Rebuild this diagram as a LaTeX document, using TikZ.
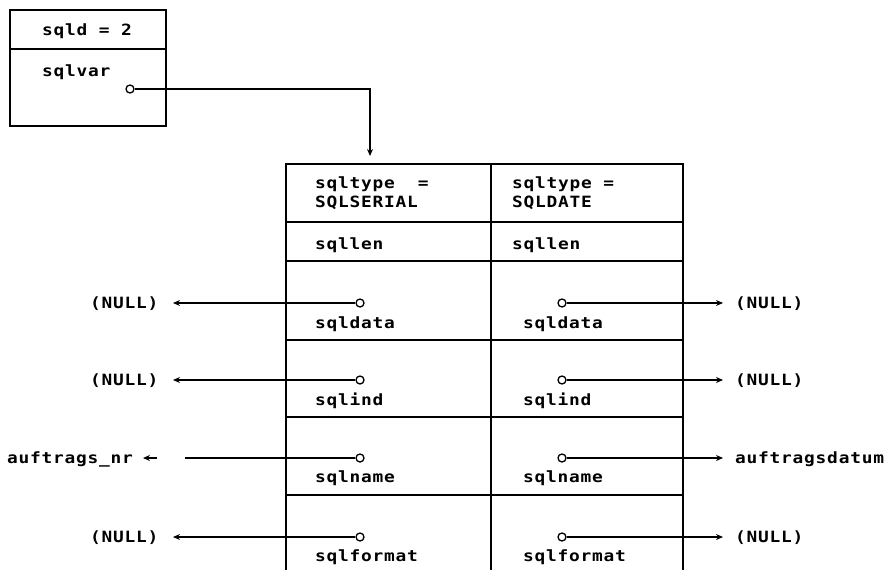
\documentclass[tikz,border=0pt]{standalone}
\usepackage{fontspec}
\newfontfamily\sqlfont[FakeStretch=1.15,LetterSpace=5]{DejaVu Sans Mono Bold}
\usetikzlibrary{arrows.meta}
\begin{document}
\begin{tikzpicture}[x=1pt,y=-1pt,
  lw/.style={line width=1.4pt},
  txt/.style={inner sep=0pt, anchor=west, text height=10pt, text depth=0pt, font=\sqlfont\fontsize{15.5}{17}\selectfont},
  pin/.style={circle, draw, line width=1.3pt, inner sep=0pt, minimum size=8pt, fill=white},
  conn/.style={line width=1.3pt, -{Stealth[length=7pt,width=6pt]}},
  plain/.style={line width=1.3pt}
]
\useasboundingbox (0,0) rectangle (896,570);
% top box
\draw[lw] (10,10) rectangle (166,126);
\draw[lw] (10,49) -- (166,49);
\node[txt] (sqld) at (42,30) {sqld = 2};
\node[txt] (sqlvar) at (42,71) {sqlvar};
% table
\draw[lw] (286,570) -- (286,164) -- (683,164) -- (683,570);
\draw[lw] (491,164) -- (491,570);
\foreach \yy in {222,261,340,417,495} \draw[lw] (286,\yy) -- (683,\yy);
\node[txt] (t1a) at (315,183) {sqltype~ =};
\node[txt] (t1b) at (315,202) {SQLSERIAL};
\node[txt] (t2a) at (512,183) {sqltype =};
\node[txt] (t2b) at (512,202) {SQLDATE};
\node[txt] (len1) at (315,244) {sqllen};
\node[txt] (len2) at (512,244) {sqllen};
\node[txt] (data1) at (315,323) {sqldata};
\node[txt] (data2) at (523,323) {sqldata};
\node[txt] (ind1) at (315,400) {sqlind};
\node[txt] (ind2) at (523,400) {sqlind};
\node[txt] (name1) at (315,477) {sqlname};
\node[txt] (name2) at (523,477) {sqlname};
\node[txt] (fmt1) at (315,556) {sqlformat};
\node[txt] (fmt2) at (523,556) {sqlformat};
% outside labels
\node[txt] (nl1) at (90,303) {(NULL)};
\node[txt] (nl2) at (90,380) {(NULL)};
\node[txt] (an) at (7,458) {auftrags\_nr};
\node[txt] (nl4) at (90,537) {(NULL)};
\node[txt] (nr1) at (735,303) {(NULL)};
\node[txt] (nr2) at (735,380) {(NULL)};
\node[txt] (ad) at (735,458) {auftragsdatum};
\node[txt] (nr4) at (735,537) {(NULL)};
% connectors
\coordinate (bend) at (370,89);
\coordinate (tip) at (370,156);
\coordinate (gapend) at (185,458);
\coordinate (shortstart) at (157,458);
\coordinate (tl1) at (173,303);
\coordinate (tl2) at (173,380);
\coordinate (tl3) at (143,458);
\coordinate (tl4) at (173,537);
\coordinate (tr1) at (723,303);
\coordinate (tr2) at (723,380);
\coordinate (tr3) at (723,458);
\coordinate (tr4) at (723,537);
\node[pin] (p0) at (130,89) {};
\node[pin] (pl1) at (360,303) {};
\node[pin] (pl2) at (360,380) {};
\node[pin] (pl3) at (360,458) {};
\node[pin] (pl4) at (360,537) {};
\node[pin] (pr1) at (562,303) {};
\node[pin] (pr2) at (562,380) {};
\node[pin] (pr3) at (562,458) {};
\node[pin] (pr4) at (562,537) {};
\draw[conn] (p0) -- (bend) -- (tip);
\draw[conn] (pl1) -- (tl1);
\draw[conn] (pl2) -- (tl2);
\draw[plain] (pl3) -- (gapend);
\draw[conn] (shortstart) -- (tl3);
\draw[conn] (pl4) -- (tl4);
\draw[conn] (pr1) -- (tr1);
\draw[conn] (pr2) -- (tr2);
\draw[conn] (pr3) -- (tr3);
\draw[conn] (pr4) -- (tr4);
\end{tikzpicture}
\end{document}
